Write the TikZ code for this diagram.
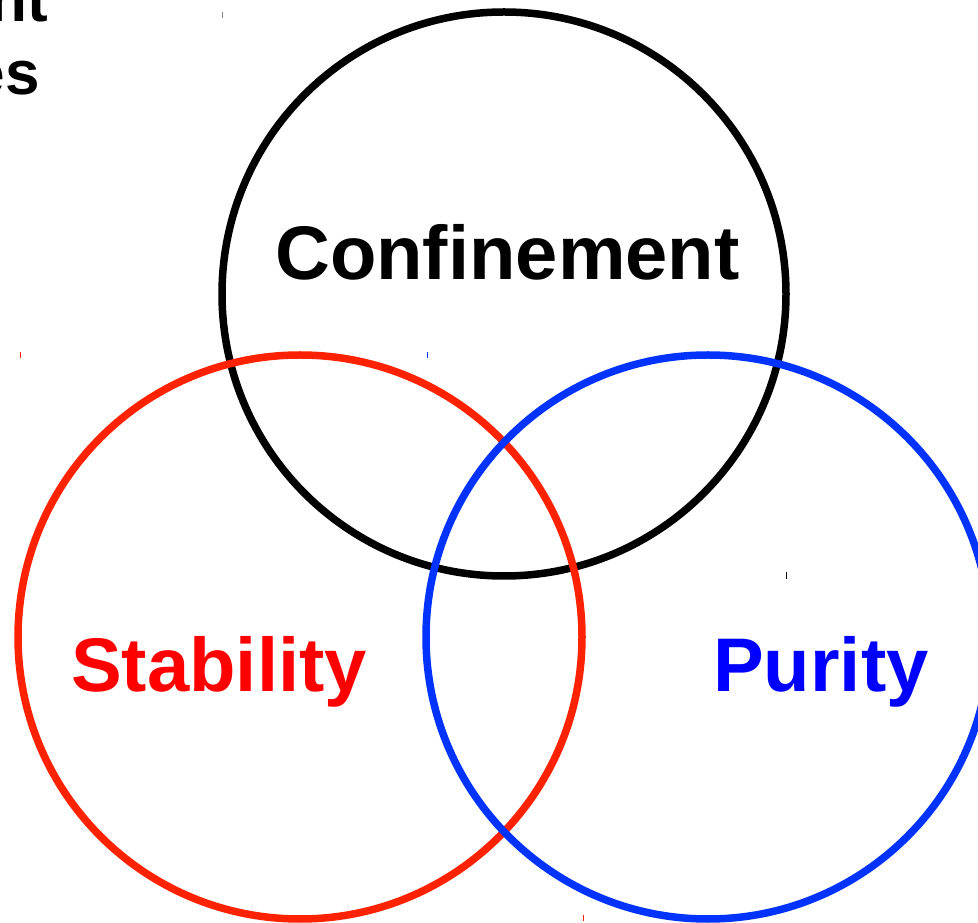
\documentclass[tikz,border=0pt]{standalone}
\usepackage{fontspec}
\setmainfont{Liberation Sans}
\definecolor{rouge}{RGB}{255,34,0}
\definecolor{bleu}{RGB}{0,51,255}
\tikzset{
  ring/.style={circle, line width=7.5pt, minimum size=564pt, inner sep=0pt},
  mot/.style={inner sep=0pt, font=\fontsize{76}{80}\selectfont\bfseries},
  tick/.style={line width=1pt}
}

\begin{document}
\begin{tikzpicture}[x=1pt,y=1pt]
\useasboundingbox (0,0) rectangle (978,922);
\clip (0,0) rectangle (978,922);
% bouts de texte coupes en haut a gauche
\node[mot, font=\fontsize{62}{66}\selectfont\bfseries, anchor=base east] (haut) at (48,900) {nt};
\node[mot, font=\fontsize{62}{66}\selectfont\bfseries, anchor=base east] (bas) at (40,827) {es};

% les trois cercles
\node[ring, draw=black] (conf) at (504,628) {};
\node[ring, draw=rouge] (stab) at (300,285) {};
\node[ring, draw=bleu] (pur) at (708,285) {};

\node[mot, anchor=base west] (tconf) at (275,642) {Confinement};
\node[mot, text=red, anchor=base west] (tstab) at (71,230) {Stability};
\node[mot, text=blue, anchor=base west] (tpur) at (713,230) {Purity};

% petits reperes
\draw[tick, gray] (222,904) -- (222,910);
\draw[tick, black] (786,343) -- (786,350);
\draw[tick, rouge] (20,564) -- (20,570);
\draw[tick, rouge] (583,1) -- (583,7);
\draw[tick, bleu] (427,564) -- (427,570);
\end{tikzpicture}
\end{document}
